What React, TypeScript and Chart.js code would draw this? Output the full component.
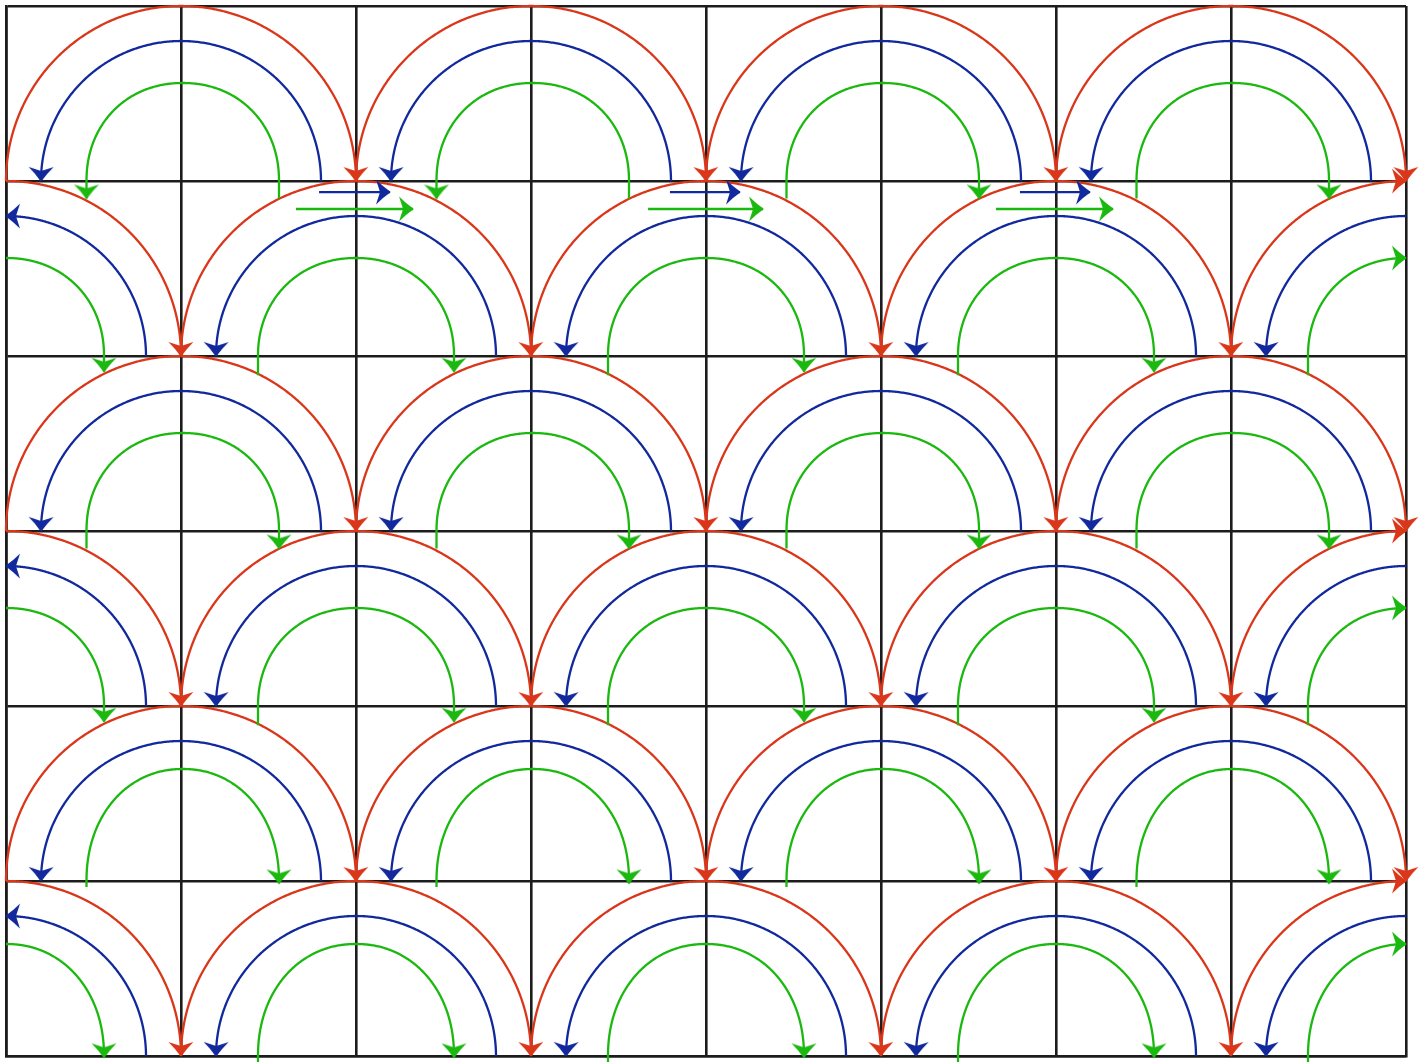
import React, { useEffect, useRef } from 'react';
import { Chart, registerables } from 'chart.js';

Chart.register(...registerables);

// ---- colours ----
const RED = '#da3619';
const BLUE = '#11299c';
const GREEN = '#1bb80f';
const GRID = '#1c1c1c';

// ---- grid (cell units, y grows downward) ----
const colCount = 8;
const rowCount = 6;

// baseline of each row of arcs and the centres of the arcs on that row
const rowBaselines = [1, 2, 3, 4, 5, 6];
const rowCenters = [
  [1, 3, 5, 7],
  [0, 2, 4, 6, 8],
  [1, 3, 5, 7],
  [0, 2, 4, 6, 8],
  [1, 3, 5, 7],
  [0, 2, 4, 6, 8],
];

// radii of the circular arcs
const redRadius = 1.0;
const blueRadius = 0.8;

// green (rounded) arcs per row
const greenHalfWidth = [0.55, 0.56, 0.55, 0.56, 0.55, 0.56];
const greenHeight = [0.56, 0.56, 0.56, 0.56, 0.64, 0.64];
const greenShift = [0.01, 0.0, 0.01, 0.0, 0.01, 0.0];
const greenTailStart = [0.1, 0.11, 0.1, 0.11, 0.034, 0.05];
const greenTailEnd = [0.1, 0.09, 0.1, 0.09, 0.014, 0.008];
// green arcs whose arrow is on the left end: [row, centre]
const greenReversed = [
  [0, 1],
  [0, 3],
];

// straight arrows: [y, xFrom, xTo]
const blueStraight = [
  [1.063, 1.789, 2.194],
  [1.063, 3.794, 4.194],
  [1.063, 5.794, 6.194],
];
const greenStraight = [
  [1.16, 1.657, 2.326],
  [1.16, 3.669, 4.326],
  [1.16, 5.657, 6.326],
];

type P = { x: number; y: number };

function curve(cx: number, cy: number, rx: number, ry: number, expo: number, t0: number, t1: number, steps = 160): P[] {
  const pts: P[] = [];
  const e = 2 / expo;
  for (let i = 0; i <= steps; i++) {
    const t = t0 + ((t1 - t0) * i) / steps;
    const c = Math.cos(t);
    const s = Math.sin(t);
    const x = cx + rx * Math.sign(c) * Math.pow(Math.abs(c), e);
    const y = cy - ry * Math.pow(Math.abs(s), e);
    pts.push({ x, y });
  }
  return pts;
}

function rotationOf(pts: P[]): number {
  const a = pts[pts.length - 2];
  const b = pts[pts.length - 1];
  return (Math.atan2(b.y - a.y, b.x - a.x) * 180) / Math.PI;
}

function makeArrow(color: string): HTMLCanvasElement {
  const c = document.createElement('canvas');
  const s = 48;
  c.width = s;
  c.height = s;
  const ctx = c.getContext('2d')!;
  ctx.translate(s / 2, s / 2);
  ctx.fillStyle = color;
  ctx.beginPath();
  ctx.moveTo(0.8, 0);
  ctx.quadraticCurveTo(-6.5, -5, -14, -12.5);
  ctx.lineTo(-10, 0);
  ctx.lineTo(-14, 12.5);
  ctx.quadraticCurveTo(-6.5, 5, 0.8, 0);
  ctx.closePath();
  ctx.fill();
  return c;
}

// angle range for arcs at a given centre (red direction: left -> top -> right)
function range(cx: number): [number, number] {
  if (cx === 0) return [Math.PI / 2, 0];
  if (cx === colCount) return [Math.PI, Math.PI / 2];
  return [Math.PI, 0];
}

export default function App() {
  const ref = useRef<HTMLCanvasElement | null>(null);

  useEffect(() => {
    document.body.style.margin = '0';
    if (!ref.current) return;

    const datasets: any[] = [];
    const arcs: any[] = [];
    const arrows: Record<string, { pts: P[]; rot: number[] }> = {
      red: { pts: [], rot: [] },
      blue: { pts: [], rot: [] },
      green: { pts: [], rot: [] },
    };

    const addArc = (pts: P[], color: string, key: string) => {
      arcs.push({
        data: pts,
        showLine: true,
        borderColor: color,
        borderWidth: 2.3,
        pointRadius: 0,
        tension: 0.05,
        fill: false,
        clip: false,
        borderCapStyle: 'butt',
        borderJoinStyle: 'round',
      });
      arrows[key].pts.push(pts[pts.length - 1]);
      arrows[key].rot.push(rotationOf(pts));
    };

    rowBaselines.forEach((cy, r) => {
      rowCenters[r].forEach((cx) => {
        const [a0, a1] = range(cx);
        // red: left -> right
        addArc(curve(cx, cy, redRadius, redRadius, 2, a0, a1), RED, 'red');
        // blue: right -> left
        addArc(curve(cx, cy, blueRadius, blueRadius, 2, a1, a0), BLUE, 'blue');
        // green
        const gx = cx + greenShift[r];
        let g = curve(gx, cy, greenHalfWidth[r], greenHeight[r], 2.1, a0, a1);
        const rev = greenReversed.some(([rr, cc]) => rr === r && cc === cx);
        if (rev) g = g.slice().reverse();
        const first = g[0];
        const last = g[g.length - 1];
        const pre: P[] = [];
        const post: P[] = [];
        if (Math.abs(first.y - cy) < 1e-6) pre.push({ x: first.x, y: cy + (rev ? greenTailEnd[r] : greenTailStart[r]) });
        if (Math.abs(last.y - cy) < 1e-6) post.push({ x: last.x, y: cy + (rev ? greenTailStart[r] : greenTailEnd[r]) });
        addArc([...pre, ...g, ...post], GREEN, 'green');
      });
    });

    blueStraight.forEach(([y, x0, x1]) => addArc([{ x: x0, y }, { x: x1, y }], BLUE, 'blue'));
    greenStraight.forEach(([y, x0, x1]) => addArc([{ x: x0, y }, { x: x1, y }], GREEN, 'green'));

    const heads: Record<string, HTMLCanvasElement> = {
      red: makeArrow(RED),
      blue: makeArrow(BLUE),
      green: makeArrow(GREEN),
    };
    (['red', 'blue', 'green'] as const).forEach((k) => {
      datasets.push({
        data: arrows[k].pts,
        showLine: false,
        pointStyle: heads[k],
        pointRotation: arrows[k].rot,
        pointRadius: 5,
        pointBorderWidth: 0,
        clip: false,
      });
    });
    datasets.push(...arcs);

    const chart = new Chart(ref.current, {
      type: 'scatter',
      data: { datasets },
      options: {
        animation: false,
        responsive: false,
        events: [],
        layout: { padding: { left: 6, top: 6, right: 20, bottom: 6 }, autoPadding: false },
        plugins: { legend: { display: false }, tooltip: { enabled: false } },
        elements: { line: { capBezierPoints: false } },
        scales: {
          x: {
            type: 'linear',
            min: 0,
            max: colCount,
            ticks: { display: false, stepSize: 1 },
            grid: { color: GRID, lineWidth: 2.6, drawTicks: false },
            border: { display: true, color: GRID, width: 2.6 },
          },
          y: {
            type: 'linear',
            min: 0,
            max: rowCount,
            reverse: true,
            ticks: { display: false, stepSize: 1 },
            grid: { color: GRID, lineWidth: 2.6, drawTicks: false },
            border: { display: true, color: GRID, width: 2.6 },
          },
        },
      },
    } as any);

    return () => chart.destroy();
  }, []);

  return (
    <div style={{ width: 1426, height: 1062, background: '#ffffff' }}>
      <canvas ref={ref} width={1426} height={1062} style={{ display: 'block', width: 1426, height: 1062 }} />
    </div>
  );
}
